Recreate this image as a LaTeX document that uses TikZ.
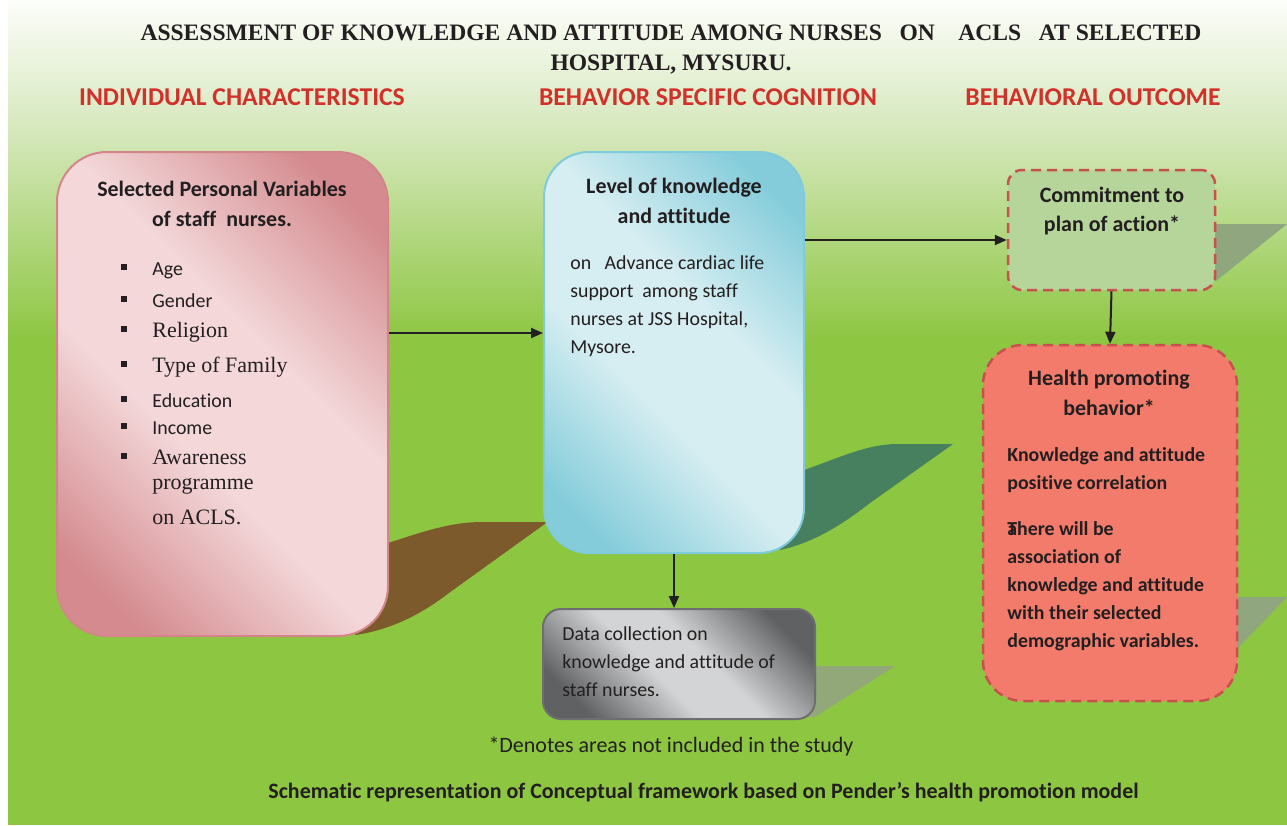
\documentclass[tikz,border=0pt]{standalone}
\usepackage{fontspec}
\setmainfont{Carlito}[Ligatures=NoCommon]
\newfontfamily\timesfont{Liberation Serif}
\usepackage{xcolor}
\usepackage{tikz}
\usetikzlibrary{arrows.meta, positioning, calc}

\definecolor{bgtop}{HTML}{FCFDF9}
\definecolor{bgmid}{HTML}{D6E8BD}
\definecolor{bggreen}{HTML}{8DC641}
\definecolor{headred}{HTML}{D2312B}
\definecolor{ink}{HTML}{231F20}
\definecolor{pinkdark}{HTML}{D48A8E}
\definecolor{pinklight}{HTML}{F3D7D9}
\definecolor{pinkline}{HTML}{D3868A}
\definecolor{bluedark}{HTML}{84CCDA}
\definecolor{bluelight}{HTML}{D6EEF2}
\definecolor{blueline}{HTML}{80CBDB}
\definecolor{greydark}{HTML}{606163}
\definecolor{greylight}{HTML}{D3D4D5}
\definecolor{greyline}{HTML}{6E6E70}
\definecolor{commitfill}{HTML}{B6D59A}
\definecolor{healthfill}{HTML}{F37B6B}
\definecolor{dashred}{HTML}{C8504E}
\definecolor{shadebrown}{HTML}{7D5A2B}
\definecolor{shadegreen}{HTML}{46805F}
\definecolor{shadegrey}{HTML}{8FA67E}
\definecolor{shadeolive}{HTML}{93A878}

% dark corners, light band across the diagonal
\pgfdeclareverticalshading{pinkband}{100bp}{color(0bp)=(pinkdark); color(22bp)=(pinkdark);
  color(42bp)=(pinklight); color(58bp)=(pinklight); color(78bp)=(pinkdark); color(100bp)=(pinkdark)}
\pgfdeclareverticalshading{blueband}{100bp}{color(0bp)=(bluedark); color(22bp)=(bluedark);
  color(42bp)=(bluelight); color(58bp)=(bluelight); color(78bp)=(bluedark); color(100bp)=(bluedark)}
\pgfdeclareverticalshading{greyband}{100bp}{color(0bp)=(greydark); color(24bp)=(greydark);
  color(44bp)=(greylight); color(56bp)=(greylight); color(76bp)=(greydark); color(100bp)=(greydark)}

\tikzset{
  pinkcard/.style={draw=pinkline, line width=0.04cm, rounded corners=1cm, inner sep=0pt,
    shading=pinkband, shading angle=-45},
  bluecard/.style={draw=blueline, line width=0.04cm, rounded corners=0.9cm, inner sep=0pt,
    shading=blueband, shading angle=-45},
  greycard/.style={draw=greyline, line width=0.04cm, rounded corners=0.36cm, inner sep=0pt,
    shading=greyband, shading angle=-45},
  dashcard/.style={draw=dashred, line width=0.05cm, dash pattern={on 0.2cm off 0.12cm}, inner sep=0pt},
  colhead/.style={font=\fontsize{14.6}{17}\selectfont\bfseries, text=headred},
  headtext/.style={font=\fontsize{12.5}{17}\selectfont\bfseries, align=center, text=ink, inner sep=0pt},
  bodytext/.style={font=\fontsize{11.3}{15.9}\selectfont, align=left, text=ink, anchor=west, inner sep=0pt},
  itemtext/.style={anchor=base west, inner sep=0pt, text=ink},
  flow/.style={draw=ink, line width=0.04cm, -{Triangle[length=0.24cm, width=0.2cm]}}
}

\newcommand\sansitem{\fontsize{11.3}{14}\selectfont}
\newcommand\serifitem{\timesfont\fontsize{12.5}{14}\selectfont}

\begin{document}
\begin{tikzpicture}
\useasboundingbox (0,0) rectangle (25.74,-16.5);
% backdrop: white strip, then fading green
\fill[white] (0,0) rectangle (25.74,-16.5);
\shade[top color=bgtop, bottom color=bgmid] (0.16,0) rectangle (25.74,-2.62);
\shade[top color=bgmid, bottom color=bggreen] (0.16,-2.6) rectangle (25.74,-6.82);
\fill[bggreen] (0.16,-6.8) rectangle (25.74,-16.5);

% headings
\node[font=\timesfont\bfseries\fontsize{13.4}{17.6}\selectfont, align=center, text=ink] (title) at (13.42,-0.99)
  {ASSESSMENT OF KNOWLEDGE AND ATTITUDE AMONG NURSES\ \ \ ON\ \ \ \ ACLS\ \ \ AT SELECTED\\HOSPITAL, MYSURU.};
\node[colhead] (colIndividual) at (4.84,-1.94) {INDIVIDUAL CHARACTERISTICS};
\node[colhead] (colCognition) at (14.16,-1.94) {BEHAVIOR SPECIFIC COGNITION};
\node[colhead] (colOutcome) at (21.86,-1.94) {BEHAVIORAL OUTCOME};

% cast shadows behind the boxes
\fill[shadebrown] (7.5,-10.9) -- (7.76,-10.86) .. controls (8.5,-10.62) and (9.0,-10.45) .. (9.6,-10.44)
  -- (10.95,-10.44) -- (8.95,-11.88) .. controls (8.4,-12.3) and (7.8,-12.6) .. (7.1,-12.7) -- cycle;
\fill[shadegreen] (15.9,-9.5) -- (16.08,-9.4) .. controls (16.8,-9.15) and (17.3,-8.9) .. (17.9,-8.88)
  -- (19.06,-8.88) -- (17.4,-10.06) .. controls (16.9,-10.45) and (16.3,-10.85) .. (15.6,-11.0) -- cycle;
\fill[shadegrey] (24.2,-4.48) -- (25.74,-4.48) -- (24.32,-5.62) -- (24.2,-5.62) -- cycle;
\fill[shadegrey] (24.6,-11.94) -- (25.74,-11.94) -- (24.72,-13.0) -- (24.6,-13.0) -- cycle;
\fill[shadeolive] (16.1,-13.32) -- (17.9,-13.32) -- (16.3,-14.34) -- (16.1,-14.34) -- cycle;

% boxes
\node[pinkcard, minimum width=6.62cm, minimum height=9.68cm] (personal) at (4.45,-7.88) {};
\node[bluecard, minimum width=5.2cm, minimum height=8.02cm] (knowledge) at (13.48,-7.05) {};
\node[greycard, minimum width=5.44cm, minimum height=2.2cm] (data) at (13.58,-13.28) {};
\node[dashcard, fill=commitfill, rounded corners=0.28cm, minimum width=4.14cm, minimum height=2.4cm] (commit) at (22.23,-4.6) {};
\node[dashcard, fill=healthfill, rounded corners=0.8cm, minimum width=5.08cm, minimum height=7.12cm] (health) at (22.2,-10.46) {};

% personal variables
\node[headtext] (personalHead) at (4.44,-4.08) {Selected Personal Variables\\of staff\ \ nurses.};
\foreach \i/\yy/\txt/\fnt in {1/-5.50/Age/\sansitem, 2/-6.14/Gender/\sansitem, 3/-6.74/Religion/\serifitem,
    4/-7.44/Type of Family/\serifitem, 5/-8.14/Education/\sansitem, 6/-8.68/Income/\sansitem,
    7/-9.28/Awareness/\serifitem}{
  \node[itemtext, font=\fnt] (item\i) at (3.04,\yy) {\txt};
  \fill[ink] (2.42,\yy+0.10) rectangle (2.54,\yy+0.22);
}
\node[itemtext, font=\serifitem] (item8) at (3.04,-9.78) {programme};
\node[itemtext, font=\serifitem] (item9) at (3.04,-10.48) {on ACLS.};

% cognition
\node[headtext] (knowledgeHead) at (13.48,-4.02) {Level of knowledge\\and attitude};
\node[bodytext] (knowledgeBody) at (11.4,-6.13)
  {on\ \ \ Advance cardiac life\\support\ \ among staff\\nurses at JSS Hospital,\\Mysore.};
\node[bodytext] (dataText) at (11.24,-13.24)
  {Data collection on\\knowledge and attitude of\\staff nurses.};

% outcome
\node[headtext] (commitText) at (22.24,-4.22) {Commitment to\\plan of action*};
\node[headtext] (healthHead) at (22.18,-7.86) {Health promoting\\behavior*};
\node[bodytext, font=\fontsize{11.3}{15.9}\selectfont\bfseries] (healthBodyA) at (20.14,-9.4)
  {Knowledge and attitude\\positive correlation};
\node[bodytext, font=\fontsize{11.3}{15.9}\selectfont\bfseries] (healthBodyB) at (20.14,-11.73)
  {\makebox[0pt][l]{a}There will be\\association of\\knowledge and attitude\\with their selected\\demographic variables.};

% notes under the chart
\node[font=\fontsize{12.5}{14}\selectfont, text=ink] (footnote) at (13.42,-14.92) {*Denotes areas not included in the study};
\node[font=\fontsize{12.5}{14}\selectfont\bfseries, text=ink] (caption) at (14.07,-15.84)
  {Schematic representation of Conceptual framework based on Pender’s health promotion model};

% connectors
\coordinate (rowLow) at (0,-6.66);
\coordinate (rowHigh) at (0,-4.8);
\draw[flow] (personal.east |- rowLow) -- (knowledge.west |- rowLow);
\draw[flow] (knowledge.east |- rowHigh) -- (commit.west |- rowHigh);
\draw[flow] (commit.south) -- (health.north);
\draw[flow] (knowledge.south) -- (data.north -| knowledge.south);
\end{tikzpicture}
\end{document}
